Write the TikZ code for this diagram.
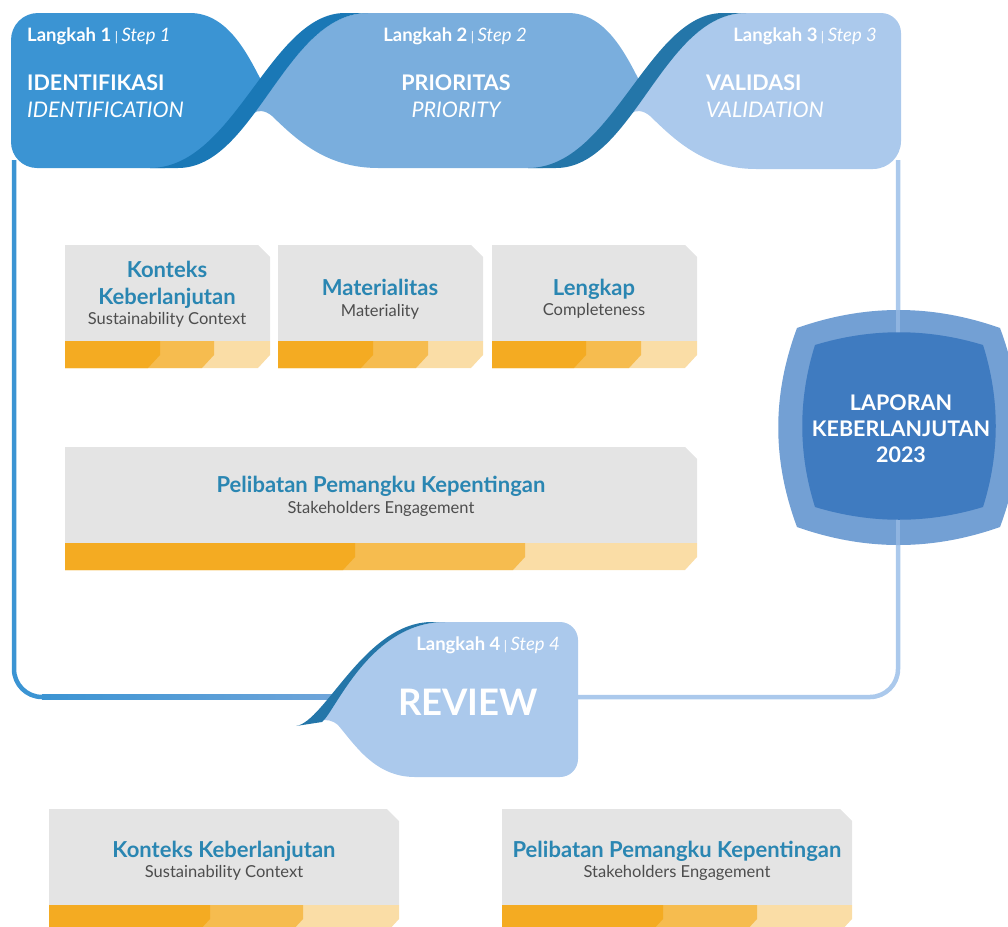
\documentclass[tikz,border=0pt]{standalone}
\usepackage{fontspec}
\setmainfont{Lato}
\usepackage{tikz}
\definecolor{biru1}{HTML}{3B94D3}
\definecolor{biru1gelap}{HTML}{1A78B6}
\definecolor{biru2}{HTML}{7AAEDD}
\definecolor{biru2gelap}{HTML}{2476A9}
\definecolor{biru3}{HTML}{ABC9EC}
\definecolor{birugaris}{HTML}{6FA5DA}
\definecolor{lencanaluar}{HTML}{73A0D4}
\definecolor{lencanadalam}{HTML}{3F7BC0}
\definecolor{birujudul}{HTML}{2A86B2}
\definecolor{abuteks}{HTML}{4D4D4D}
\definecolor{abu}{HTML}{E4E4E4}
\definecolor{oranye1}{HTML}{F4AB22}
\definecolor{oranye2}{HTML}{F6BC4F}
\definecolor{oranye3}{HTML}{FADDA6}

\tikzset{
  bingkai/.style={line width=4.5pt},
  judul/.style={text=birujudul, font=\bfseries\fontsize{22}{26}\selectfont, inner sep=0pt, anchor=base},
  subjudul/.style={text=abuteks, font=\fontsize{16.5}{19}\selectfont, inner sep=0pt, anchor=base},
  langkah/.style={text=white, font=\fontsize{18.5}{22}\selectfont, inner sep=0pt, anchor=base},
  tahap/.style={text=white, font=\bfseries\fontsize{21.5}{25}\selectfont, inner sep=0pt, anchor=base},
  tahapinggris/.style={text=white, font=\itshape\fontsize{21.5}{25}\selectfont, inner sep=0pt, anchor=base},
  lencana/.style={text=white, font=\bfseries\fontsize{21.5}{25}\selectfont, inner sep=0pt, anchor=base},
}

\newcommand{\garis}{\hspace{3.5pt}{\fontsize{13}{13}\selectfont\color{white}|}\hspace{3.5pt}}
\newcommand{\langkahteks}[1]{\textbf{Langkah #1}\garis\textit{Step #1}}

% kartu: x kiri, y atas, lebar, ujung oranye tua, ujung oranye tengah
\newcommand{\kartu}[5]{%
  \fill[abu] (#1,#2) -- ({#1+#3-12},#2) -- ({#1+#3},{#2+12}) -- ({#1+#3},{#2+96}) -- (#1,{#2+96}) -- cycle;
  \fill[oranye3] (#1,{#2+96}) -- ({#1+#3},{#2+96}) -- ({#1+#3},{#2+110}) -- ({#1+#3-12},{#2+123}) -- (#1,{#2+123}) -- cycle;
  \fill[oranye2] (#1,{#2+96}) -- ({#1+#5},{#2+96}) -- ({#1+#5},{#2+110}) -- ({#1+#5-12},{#2+123}) -- (#1,{#2+123}) -- cycle;
  \fill[oranye1] (#1,{#2+96}) -- ({#1+#4},{#2+96}) -- ({#1+#4},{#2+110}) -- ({#1+#4-12},{#2+123}) -- (#1,{#2+123}) -- cycle;
}

\begin{document}
\begin{tikzpicture}[x=1pt,y=-1pt]
  \useasboundingbox (0,0) rectangle (1008,926);

  % bingkai
  \draw[bingkai,biru1] (14,160) -- (14,669) arc (180:90:28) -- (44,697);
  \fill[left color=biru1, right color=birugaris] (42,694.75) rectangle (335,699.25);
  \draw[bingkai,biru3] (570,697) -- (870,697) arc (90:0:28) -- (898,160);

  % pita langkah 1-3
  \fill[biru2] (368,13) .. controls (318,13) and (287,69) .. (254,113)
    .. controls (258,110) and (265,110) .. (272,116)
    .. controls (295,138) and (325,168) .. (378,168) -- (543,168)
    .. controls (593,168) and (618,125) .. (646,84) -- (640,82)
    .. controls (626,55) and (606,13) .. (568,13) -- cycle;
  \fill[biru1] (190,13) .. controls (228,13) and (248,55) .. (262,82) -- (268,84)
    .. controls (240,125) and (215,168) .. (165,168) -- (37,168)
    arc (90:180:26) -- (11,40) arc (180:270:27) -- cycle;
  \fill[biru3] (746,13) .. controls (696,13) and (665,69) .. (632,113)
    .. controls (636,110) and (643,110) .. (650,116)
    .. controls (673,138) and (703,169) .. (756,169) -- (873,169)
    arc (90:0:28) -- (901,33) arc (0:-90:20) -- cycle;
  \fill[biru1gelap] (150,168) .. controls (235,168) and (270,13) .. (345,13) -- (368,13)
    .. controls (285,13) and (255,168) .. (178,168) -- cycle;
  \fill[biru2gelap] (528,168) .. controls (613,168) and (648,13) .. (723,13) -- (746,13)
    .. controls (663,13) and (633,168) .. (556,168) -- cycle;

  \node[langkah, anchor=base west] (l1) at (27,41) {\langkahteks{1}};
  \node[tahap, anchor=base west] (t1) at (27,90) {IDENTIFIKASI};
  \node[tahapinggris, anchor=base west] (e1) at (27,117) {IDENTIFICATION};
  \node[langkah] (l2) at (455,41) {\langkahteks{2}};
  \node[tahap] (t2) at (456,90) {PRIORITAS};
  \node[tahapinggris] (e2) at (456,117) {PRIORITY};
  \node[langkah, anchor=base east] (l3) at (877,41) {\langkahteks{3}};
  \node[tahap, anchor=base west] (t3) at (706,90) {VALIDASI};
  \node[tahapinggris, anchor=base west] (e3) at (706,117) {VALIDATION};

  % langkah 4
  \fill[biru3] (445,622) .. controls (370,622) and (335,712) .. (320,721)
    .. controls (326,719) and (332,720) .. (338,725)
    .. controls (355,745) and (375,777) .. (415,777) -- (560,777)
    arc (90:0:18) -- (578,640) arc (0:-90:18) -- cycle;
  \fill[biru2gelap] (296,726) .. controls (325,722) and (365,622) .. (432,622) -- (445,622)
    .. controls (370,622) and (335,712) .. (322,722) -- cycle;
  \node[langkah] (l4) at (488,650) {\langkahteks{4}};
  \node[text=white, font=\bfseries\fontsize{36.5}{42}\selectfont, inner sep=0pt, anchor=base] (rv) at (468,715) {REVIEW};

  % laporan
  \fill[lencanaluar] (797,328) .. controls (865,304) and (932,304) .. (1000,328)
    .. controls (1025,395) and (1025,460) .. (1000,527)
    .. controls (932,551) and (865,551) .. (797,527)
    .. controls (772,460) and (772,395) .. (797,328) -- cycle;
  \draw[bingkai,biru3,opacity=0.5] (898,300) -- (898,560);
  \fill[lencanadalam] (815,345) .. controls (871,328) and (927,328) .. (983,345)
    .. controls (1000,399) and (1000,453) .. (983,507)
    .. controls (927,524) and (871,524) .. (815,507)
    .. controls (798,453) and (798,399) .. (815,345) -- cycle;
  \node[lencana] (lap1) at (901,410) {LAPORAN};
  \node[lencana] (lap2) at (901,436) {KEBERLANJUTAN};
  \node[lencana] (lap3) at (901,462) {2023};

  % kartu
  \kartu{65}{245}{205}{95}{149}
  \kartu{278}{245}{205}{95}{150}
  \kartu{492}{245}{205}{94}{149}
  \kartu{65}{447}{632}{290}{460}
  \kartu{49}{809}{350}{161}{254}
  \kartu{502}{809}{350}{161}{255}

  \node[judul] (kA1) at (167,277) {Konteks};
  \node[judul] (kA2) at (167,304) {Keberlanjutan};
  \node[subjudul] (kA3) at (167,324) {Sustainability Context};
  \node[judul] (kB1) at (380,295) {Materialitas};
  \node[subjudul] (kB2) at (380,316) {Materiality};
  \node[judul] (kC1) at (594,295) {Lengkap};
  \node[subjudul] (kC2) at (594,315) {Completeness};
  \node[judul] (kD1) at (381,492) {Pelibatan Pemangku Kepentingan};
  \node[subjudul] (kD2) at (381,513) {Stakeholders Engagement};
  \node[judul] (kE1) at (224,857) {Konteks Keberlanjutan};
  \node[subjudul] (kE2) at (224,877) {Sustainability Context};
  \node[judul] (kF1) at (677,857) {Pelibatan Pemangku Kepentingan};
  \node[subjudul] (kF2) at (677,877) {Stakeholders Engagement};
\end{tikzpicture}
\end{document}
